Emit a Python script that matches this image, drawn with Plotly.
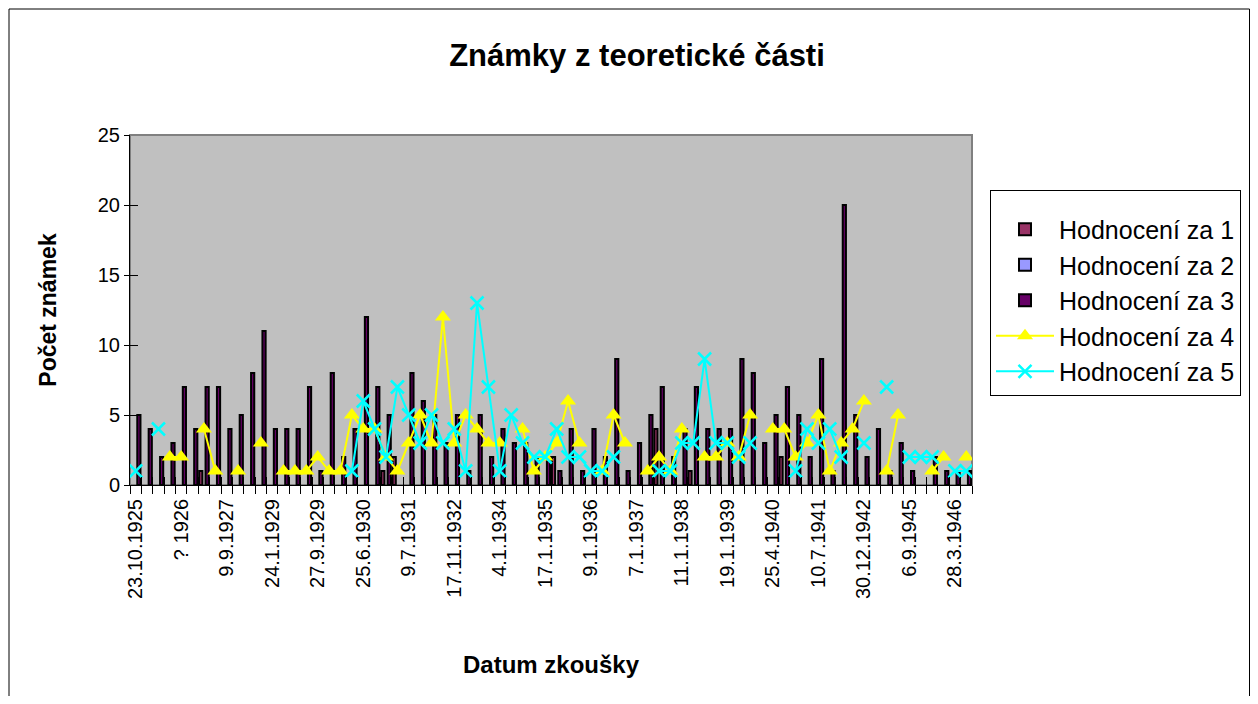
import plotly.graph_objects as go

# ---- data ----
n_cat = 74
label_pos = [0, 4, 8, 12, 16, 20, 24, 28, 32, 36, 40, 44, 48, 52, 56, 60, 64, 68, 72]
label_txt = ["23.10.1925", "? 1926", "9.9.1927", "24.1.1929", "27.9.1929", "25.6.1930",
             "9.7.1931", "17.11.1932", "4.1.1934", "17.1.1935", "9.1.1936", "7.1.1937",
             "11.1.1938", "19.1.1939", "25.4.1940", "10.7.1941", "30.12.1942", "6.9.1945",
             "28.3.1946"]

N = None
za1 = [N]*74
for i, v in {6: 1, 22: 1, 23: 2, 37: 2, 46: 4, 49: 1, 57: 2}.items():
    za1[i] = v
za2 = [N]*74
za3 = [5, 4, 2, 3, 7, 4, 7, 7, 4, 5, 8, 11, 4, 4, 4, 7, 1, 8, 2, 4,
       12, 7, 5, N, 8, 6, 5, 3, 5, 1, 5, 2, 4, 3, 3, 2, 2, 1, 4, 1,
       4, 2, 9, 1, 3, 5, 7, 2, 4, 7, 4, 4, 4, 9, 8, 3, 5, 7, 5, 2,
       9, 1, 20, 5, 2, 4, 1, 3, 1, N, 2, 1, 1, 1]
za4 = [N, N, N, 2, 2, N, 4, 1, N, 1, N, 3, N, 1, 1, 1, 2, 1, 1, 5,
       4, 4, 2, 1, 3, 5, 3, 12, 3, 5, 4, 3, 3, N, 4, 1, 2, 3, 6, 3,
       N, 1, 5, 3, N, 1, 2, 1, 4, N, 2, 2, 3, 2, 5, N, 4, 4, 2, 3,
       5, 1, 3, 4, 6, N, 1, 5, N, N, 1, 2, N, 2]
za5 = [1, N, 4, N, N, N, N, N, N, N, N, N, N, N, N, N, N, N, N, 1,
       6, 4, 2, 7, 5, 3, 5, 3, 4, 1, 13, 7, 1, 5, 3, 2, 2, 4, 2, 2,
       1, 1, 2, N, N, N, 1, 1, 3, 3, 9, 3, 3, 2, 3, N, N, N, 1, 4,
       3, 4, 2, N, 3, N, 7, N, 2, 2, 2, N, 1, 1]

x = list(range(n_cat))
bounds = [i - 0.5 for i in range(n_cat + 1)]

FONT = "Arial, Liberation Sans, sans-serif"

fig = go.Figure()
for name, vals, col in [("Hodnocení za 1", za1, "#993366"),
                        ("Hodnocení za 2", za2, "#9999FF"),
                        ("Hodnocení za 3", za3, "#660066")]:
    fig.add_trace(go.Bar(x=x, y=vals, name=name,
                         marker=dict(color=col, line=dict(color="black", width=2)),
                         legendgroup=name))
fig.add_trace(go.Scatter(x=x, y=za4, name="Hodnocení za 4", mode="lines+markers",
                         line=dict(color="#FFFF00", width=2), connectgaps=False,
                         marker=dict(symbol="triangle-up", size=14, color="#FFFF00"),
                         legendgroup="4"))
fig.add_trace(go.Scatter(x=x, y=za5, name="Hodnocení za 5", mode="lines+markers",
                         line=dict(color="#00FFFF", width=2), connectgaps=False,
                         marker=dict(symbol="x-thin", size=13, line=dict(color="#00FFFF", width=2.5)),
                         legendgroup="5"))
# dummy trace for the overlay axes (inside ticks)
fig.add_trace(go.Scatter(x=[], y=[], xaxis="x2", yaxis="y2", showlegend=False, hoverinfo="skip"))

OFF = 8  # page body margin
W, H = 1258 - 2 * OFF, 704 - 2 * OFF
L, R, T, B = 130 - OFF, 972 - OFF, 135 - OFF, 485 - OFF
pw, ph = R - L, B - T


def px(v):  # reference pixel -> paper
    return (v - OFF - L) / pw


def py(v):
    return (B - (v - OFF)) / ph


fig.update_layout(
    width=W, height=H,
    margin=dict(l=L, r=W - R, t=T, b=H - B, pad=0, autoexpand=False),
    paper_bgcolor="white", plot_bgcolor="#C0C0C0",
    barmode="group", bargap=0.16, bargroupgap=0,
    font=dict(family=FONT, color="black", size=20),
    title=dict(text="<b>Známky z teoretické části</b>", x=(637 - OFF) / W, xref="container",
               y=1 - (55 - OFF) / H, yanchor="middle", xanchor="center",
               font=dict(family=FONT, size=31, color="black")),
    xaxis=dict(range=[-0.5, n_cat - 0.5], tickmode="array", tickvals=label_pos, ticktext=label_txt,
               tickangle=-90, ticks="", showgrid=False, zeroline=False, showline=True,
               linecolor="black", linewidth=1, tickfont=dict(size=20), ticklabelstandoff=5,
               automargin=False,
               minor=dict(tickmode="array", tickvals=bounds, ticks="outside", ticklen=8,
                          tickcolor="black", tickwidth=1, showgrid=False),
               title=dict(text="<b>Datum zkoušky</b>", font=dict(size=24), standoff=58)),
    xaxis2=dict(range=[-0.5, n_cat - 0.5], overlaying="x", matches="x", tickmode="array", tickvals=bounds,
                ticks="inside", ticklen=8, tickcolor="black", showticklabels=False,
                showgrid=False, zeroline=False, showline=False, anchor="y2", side="bottom"),
    yaxis=dict(range=[0, 25], tickmode="linear", tick0=0, dtick=5, ticks="outside", ticklen=5,
               tickcolor="black", showgrid=False, zeroline=False, showline=True, linecolor="black",
               linewidth=1, tickfont=dict(size=20), automargin=False,
               title=dict(text="<b>Počet známek</b>", font=dict(size=23), standoff=34)),
    yaxis2=dict(range=[0, 25], overlaying="y", matches="y", tickmode="linear", tick0=0, dtick=5,
                ticks="inside", ticklen=8, tickcolor="black", showticklabels=False,
                showgrid=False, zeroline=False, showline=False, side="left", anchor="x2"),
    legend=dict(x=px(990), y=py(190), xanchor="left", yanchor="top", bgcolor="white",
                bordercolor="black", borderwidth=1, font=dict(size=25), tracegroupgap=3,
                itemwidth=58, traceorder="normal",
                title=dict(text=" ", font=dict(size=12))),
    showlegend=True,
    shapes=[
        dict(type="rect", xref="paper", yref="paper", x0=0, x1=1, y0=0, y1=1,
             line=dict(color="#808080", width=2), layer="below"),
        dict(type="rect", xref="paper", yref="paper", x0=px(9), x1=px(1249.5), y0=py(720), y1=py(9),
             line=dict(color="black", width=1), layer="below"),
    ],
)

fig.write_html("out.html")
